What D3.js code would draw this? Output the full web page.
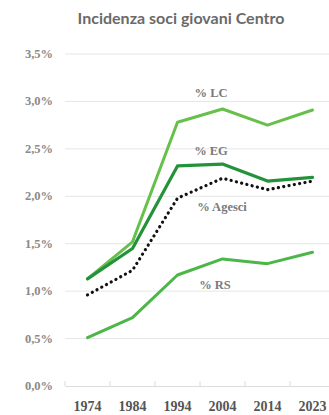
<!DOCTYPE html>
<html>
<head>
<meta charset="utf-8">
<script src="https://cdn.jsdelivr.net/npm/d3@7/dist/d3.min.js"></script>
<style>
  html, body { margin: 0; padding: 0; background: #ffffff; }
  svg { display: block; }
</style>
</head>
<body>
<svg id="chart" width="329" height="415"></svg>
<script>
// Survey years and share of young members per branch (percent)
const years = ["1974", "1984", "1994", "2004", "2014", "2023"];
const lc     = [1.13, 1.52, 2.78, 2.92, 2.75, 2.91];
const eg     = [1.13, 1.45, 2.32, 2.34, 2.16, 2.20];
const agesci = [0.96, 1.22, 1.98, 2.19, 2.07, 2.16];
const rs     = [0.51, 0.72, 1.17, 1.34, 1.29, 1.41];
const yTicks = [0, 0.5, 1.0, 1.5, 2.0, 2.5, 3.0, 3.5];

const title = "Incidenza soci giovani Centro";

const svg = d3.select("#chart");
const W = 329, H = 415;
const margin = { left: 65, right: -6, top: 54, bottom: 29 };

const x = d3.scaleBand()
  .domain(years)
  .range([margin.left, W - margin.right]);

const y = d3.scaleLinear()
  .domain([0, 3.5])
  .range([H - margin.bottom, margin.top]);

const fmt = v => d3.format(".1f")(v).replace(".", ",") + "%";
const serif = "'Liberation Serif', 'DejaVu Serif', serif";

// Title
svg.append("text")
  .attr("x", 181)
  .attr("y", 24)
  .attr("text-anchor", "middle")
  .attr("font-family", "Lato, 'Open Sans', sans-serif")
  .attr("font-weight", "bold")
  .attr("font-size", 16)
  .attr("fill", "#6a6a6a")
  .text(title);

// Horizontal grid lines
svg.append("g")
  .selectAll("line")
  .data(yTicks.filter(d => d > 0))
  .join("line")
  .attr("x1", margin.left)
  .attr("x2", W)
  .attr("y1", d => y(d))
  .attr("y2", d => y(d))
  .attr("stroke", "#e6e6e6")
  .attr("stroke-width", 1);

// Y axis labels
svg.append("g")
  .selectAll("text")
  .data(yTicks)
  .join("text")
  .attr("x", 53)
  .attr("y", d => y(d) + 4)
  .attr("text-anchor", "end")
  .attr("font-family", serif)
  .attr("font-weight", "bold")
  .attr("font-size", 12.5)
  .attr("fill", "#8a8a8a")
  .text(fmt);

// X axis baseline with band separators
const xAxis = d3.axisBottom(x).tickSize(0).tickSizeOuter(0);
const gx = svg.append("g")
  .attr("transform", `translate(0,${y(0)})`)
  .call(xAxis);
gx.select(".domain").attr("stroke", "#dcdcdc");
gx.selectAll(".tick text")
  .attr("dy", 0)
  .attr("y", 25)
  .attr("font-family", serif)
  .attr("font-weight", "bold")
  .attr("font-size", 14)
  .attr("fill", "#555555");
svg.append("g")
  .selectAll("line")
  .data(years)
  .join("line")
  .attr("x1", d => x(d))
  .attr("x2", d => x(d))
  .attr("y1", y(0) - 5)
  .attr("y2", y(0))
  .attr("stroke", "#dcdcdc");

const cx = d => x(d) + x.bandwidth() / 2;
const line = d3.line()
  .x((d, i) => cx(years[i]))
  .y(d => y(d));

const series = [
  { name: "% RS", values: rs, color: "#4cb748", width: 3, dash: null },
  { name: "% LC", values: lc, color: "#66c04a", width: 3, dash: null },
  { name: "% EG", values: eg, color: "#23923a", width: 3.2, dash: null },
  { name: "% Agesci", values: agesci, color: "#111111", width: 3.2, dash: "0.1 5.3" }
];

svg.append("g")
  .selectAll("path")
  .data(series)
  .join("path")
  .attr("d", d => line(d.values))
  .attr("fill", "none")
  .attr("stroke", d => d.color)
  .attr("stroke-width", d => d.width)
  .attr("stroke-linecap", "round")
  .attr("stroke-linejoin", "round")
  .attr("stroke-dasharray", d => d.dash);

// Series labels
const labels = [
  { text: "% LC", x: 211, y: 97 },
  { text: "% EG", x: 211, y: 155 },
  { text: "% Agesci", x: 222, y: 211 },
  { text: "% RS", x: 215, y: 289 }
];
svg.append("g")
  .selectAll("text")
  .data(labels)
  .join("text")
  .attr("x", d => d.x)
  .attr("y", d => d.y)
  .attr("text-anchor", "middle")
  .attr("font-family", serif)
  .attr("font-weight", "bold")
  .attr("font-size", 12.5)
  .attr("fill", "#7a7a7a")
  .text(d => d.text);
</script>
</body>
</html>
